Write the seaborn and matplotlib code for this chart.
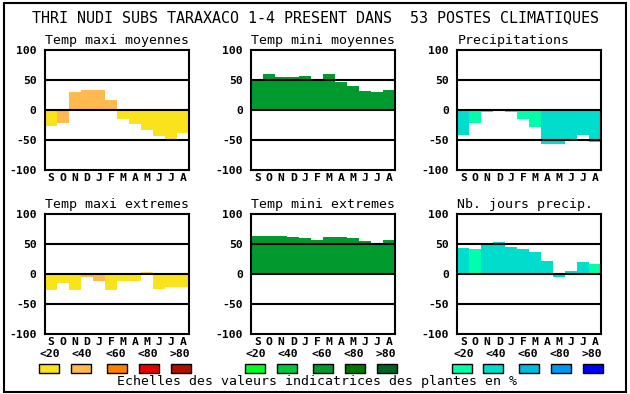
import matplotlib
matplotlib.use('Agg')
import matplotlib.pyplot as plt
import seaborn as sns
import pandas as pd
from matplotlib.patches import Rectangle

# ---------------- data ----------------
months = ['S', 'O', 'N', 'D', 'J', 'F', 'M', 'A', 'M', 'J', 'J', 'A']
month_keys = ['sep', 'oct', 'nov', 'dec', 'jan', 'feb', 'mar', 'apr', 'may', 'jun', 'jul', 'aug']
levels = ['<20', '<40', '<60', '<80', '>80']

main_title = 'THRI NUDI SUBS TARAXACO 1-4 PRESENT DANS  53 POSTES CLIMATIQUES'
footer = 'Echelles des valeurs indicatrices des plantes en %'

tmax_moy = [-26, -21, 30, 33, 33, 17, -15, -23, -34, -43, -48, -38]
tmax_moy_cls = [0, 1, 1, 1, 1, 1, 0, 0, 0, 0, 0, 0]
tmin_moy = [52, 60, 55, 55, 57, 52, 60, 47, 40, 32, 30, 33]
tmin_moy_cls = [2] * 12
precip = [-42, -21, -4, 0, -3, -15, -28, -56, -56, -50, -42, -53]
precip_cls = [1, 0, 0, 0, 0, 0, 0, 1, 1, 1, 1, 1]
tmax_ext = [-26, -15, -26, -4, -11, -27, -12, -11, 4, -24, -21, -22]
tmax_ext_cls = [0, 0, 0, 1, 1, 0, 0, 0, 0, 0, 0, 0]
tmin_ext = [64, 64, 64, 62, 60, 57, 62, 62, 60, 55, 50, 57]
tmin_ext_cls = [2] * 12
njours = [44, 42, 49, 54, 46, 42, 37, 22, -4, 6, 20, 17]
njours_cls = [1, 0, 1, 1, 1, 1, 1, 1, 1, 1, 1, 0]

# ---------------- styles ----------------
warm = ['#FAE31C', '#FFB94F', '#FF8000', '#E80000', '#B01000']
green = ['#00FF22', '#00C83C', '#009A2E', '#007800', '#006420']
blue = ['#00FFAA', '#00DDCC', '#00BBDD', '#0099EE', '#0000FF']

W, H = 630, 394
sns.set_theme(style='white')
plt.rcParams['font.family'] = ['DejaVu Sans Mono']

fig = plt.figure(figsize=(W / 100, H / 100), dpi=100)
fig.patch.set_facecolor('white')


def rect(x0, ytop, w, h):
    return [x0 / W, 1 - (ytop + h) / H, w / W, h / H]


def draw(pos, vals, cls, title, pal):
    ax = fig.add_axes(rect(*pos))
    df = pd.DataFrame({'m': month_keys, 'v': vals, 'c': [levels[i] for i in cls]})
    sns.barplot(data=df, x='m', y='v', hue='c', hue_order=levels, order=month_keys,
                palette=dict(zip(levels, pal)), dodge=False, width=1.0,
                saturation=1, linewidth=0, errorbar=None, legend=False, ax=ax)
    ax.set_xlim(-0.5, 11.5)
    ax.set_ylim(-100, 100)
    for yv in (-50, 0, 50):
        ax.axhline(yv, color='black', lw=1.5, zorder=5)
    for s in ax.spines.values():
        s.set_color('black')
        s.set_linewidth(1.5)
        s.set_visible(True)
    ax.set_xlabel('')
    ax.set_ylabel('')
    ax.set_xticks(range(12))
    ax.set_xticklabels(months, fontsize=8.2, fontweight='bold')
    ax.set_yticks([-100, -50, 0, 50, 100])
    ax.set_yticklabels(['-100', '-50', '0', '50', '100'], fontsize=8.2, fontweight='bold')
    ax.tick_params(axis='both', length=0, colors='black')
    ax.tick_params(axis='y', pad=6)
    ax.tick_params(axis='x', pad=2)
    ax.set_title(title, loc='left', fontsize=9.5, pad=4.3, color='black')
    ax.set_facecolor('white')
    return ax


cols = [45, 251.3, 457.3]
rows = [50, 214.3]
draw((cols[0], rows[0], 144, 120), tmax_moy, tmax_moy_cls, 'Temp maxi moyennes', warm)
draw((cols[1], rows[0], 144, 120), tmin_moy, tmin_moy_cls, 'Temp mini moyennes', green)
draw((cols[2], rows[0], 144, 120), precip, precip_cls, 'Precipitations', blue)
draw((cols[0], rows[1], 144, 120), tmax_ext, tmax_ext_cls, 'Temp maxi extremes', warm)
draw((cols[1], rows[1], 144, 120), tmin_ext, tmin_ext_cls, 'Temp mini extremes', green)
draw((cols[2], rows[1], 144, 120), njours, njours_cls, 'Nb. jours precip.', blue)

# overlay for frame, title, legend
ov = fig.add_axes([0, 0, 1, 1], zorder=-1)
ov.set_xlim(0, W)
ov.set_ylim(H, 0)
ov.axis('off')
ov.add_patch(Rectangle((4, 3), 622, 389, fill=False, ec='black', lw=1.5))
ov.text(315, 18, main_title, ha='center', va='center', fontsize=10.8, color='black')

box_x = [[39, 71, 107, 139, 171], [245, 277, 313, 345, 377], [452, 483, 519, 551, 583]]
lab_x = [[40, 72, 105, 137, 169], [246, 278, 312, 343, 375], [453, 485, 518, 549, 581]]
for g, pal in enumerate([warm, green, blue]):
    for i in range(5):
        ov.add_patch(Rectangle((box_x[g][i], 364), 20, 9, fc=pal[i], ec='black', lw=1))
        ov.text(lab_x[g][i], 354, levels[i], ha='left', va='center', fontsize=8.2,
                fontweight='bold', color='black')
ov.text(317, 382, footer, ha='center', va='center', fontsize=9.5, color='black')

fig.savefig('out.png', dpi=100)
